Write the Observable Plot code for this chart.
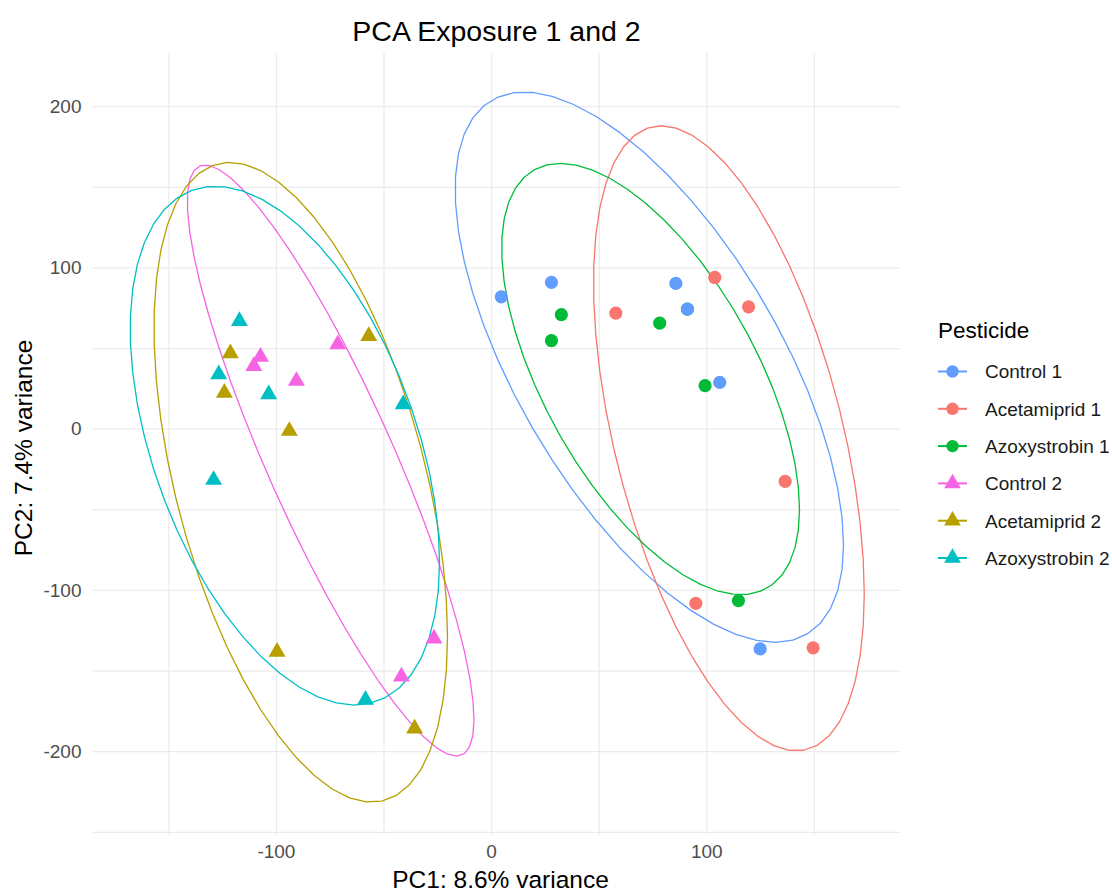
<!DOCTYPE html>
<html>
<head>
<meta charset="utf-8">
<script src="https://cdn.jsdelivr.net/npm/d3@7"></script>
<script src="https://cdn.jsdelivr.net/npm/@observablehq/plot@0.6"></script>
<style>
  html, body { margin: 0; padding: 0; background: #ffffff; }
  #chart { width: 1112px; height: 896px; }
</style>
</head>
<body>
<div id="chart"></div>
<script>
// ---- Data (PC1, PC2 scores) ----
const seriesNames = ["Control 1", "Acetamiprid 1", "Azoxystrobin 1", "Control 2", "Acetamiprid 2", "Azoxystrobin 2"];
const seriesColors = ["#619CFF", "#F8766D", "#00BA38", "#F564E3", "#B79F00", "#00BFC4"];
const seriesShapes = ["circle", "circle", "circle", "triangle", "triangle", "triangle"];
const drawOrder = [5, 4, 3, 2, 1, 0]; // later = on top

const control1 = [[4.5, 82.1], [27.8, 91.0], [85.6, 90.4], [91.0, 74.5], [106.0, 29.0], [124.8, -136.3]];
const acetamiprid1 = [[57.7, 72.0], [103.7, 94.1], [119.4, 75.9], [136.4, -32.4], [94.9, -108.0], [149.4, -135.6]];
const azoxystrobin1 = [[32.4, 71.0], [27.8, 54.9], [78.1, 65.8], [91.0, 74.5], [99.2, 27.0], [114.7, -106.3]];
const control2 = [[-107.4, 44.9], [-110.5, 39.2], [-90.7, 29.9], [-71.5, 52.6], [-26.8, -129.9], [-41.9, -153.4]];
const acetamiprid2 = [[-121.4, 47.0], [-124.2, 22.6], [-57.1, 57.8], [-94.0, -1.1], [-99.7, -138.1], [-35.8, -185.7]];
const azoxystrobin2 = [[-117.2, 67.1], [-126.8, 34.0], [-103.6, 21.6], [-41.1, 15.4], [-129.2, -31.5], [-58.6, -167.9]];

const seriesValues = [control1, acetamiprid1, azoxystrobin1, control2, acetamiprid2, azoxystrobin2];

const xTicks = [-100, 0, 100];
const yTicks = [-200, -100, 0, 100, 200];
const xGrid = [-150, -100, -50, 0, 50, 100, 150];
const yGrid = [-250, -200, -150, -100, -50, 0, 50, 100, 150, 200];
const ellipseLevel = 0.75;

// ---- Table of points ----
const points = [];
seriesNames.forEach((name, i) => {
  seriesValues[i].forEach(([pc1, pc2]) => points.push({group: name, shape: seriesShapes[i], order: drawOrder[i], pc1, pc2}));
});

// ---- stat_ellipse (type "norm"): sample covariance + chol ----
function ellipsePath(pts, group, level, segments = 51) {
  const n = pts.length;
  const mx = d3.mean(pts, d => d[0]), my = d3.mean(pts, d => d[1]);
  let a = 0, b = 0, c = 0;
  pts.forEach(([x, y]) => { a += (x - mx) * (x - mx); b += (x - mx) * (y - my); c += (y - my) * (y - my); });
  a /= n - 1; b /= n - 1; c /= n - 1;
  const dfn = 2, dfd = n - 1;
  const fq = (dfd / 2) * (Math.pow(1 - level, -2 / dfd) - 1); // qf(level, 2, dfd)
  const radius = Math.sqrt(dfn * fq);
  const r11 = Math.sqrt(a), r12 = b / r11, r22 = Math.sqrt(c - r12 * r12);
  const out = [];
  for (let k = 0; k <= segments; k++) {
    const t = k * 2 * Math.PI / segments;
    const ct = Math.cos(t), st = Math.sin(t);
    out.push({group, pc1: mx + radius * ct * r11, pc2: my + radius * (ct * r12 + st * r22)});
  }
  return out;
}
const ellipses = seriesNames.flatMap((name, i) => ellipsePath(seriesValues[i], name, ellipseLevel));

// ---- Plot ----
const W = 1112, H = 896;
const mL = 93, mR = 212, mT = 53, mB = 61;
const FONT = "'Liberation Sans', Arial, Helvetica, sans-serif";
const fmt = d => String(d);

const plot = Plot.plot({
  width: W, height: H,
  marginLeft: mL, marginRight: mR, marginTop: mT, marginBottom: mB,
  style: {fontFamily: FONT, background: "#ffffff"},
  x: {domain: [-185, 190]},
  y: {domain: [-252, 233]},
  color: {domain: seriesNames, range: seriesColors},
  marks: [
    Plot.gridX(xGrid, {stroke: "#EBEBEB", strokeOpacity: 1, strokeWidth: 1.2}),
    Plot.gridY(yGrid, {stroke: "#EBEBEB", strokeOpacity: 1, strokeWidth: 1.2}),
    Plot.axisX({ticks: xTicks, tickFormat: fmt, tickSize: 0, tickPadding: 9, fontSize: 19, fill: "#4D4D4D", label: null}),
    Plot.axisY({ticks: yTicks, tickFormat: fmt, tickSize: 0, tickPadding: 12, fontSize: 19, fill: "#4D4D4D", label: null}),
    Plot.line(ellipses, {x: "pc1", y: "pc2", z: "group", stroke: "group", strokeWidth: 1.3, curve: "linear"}),
    Plot.dot(points.filter(d => d.shape === "circle"), {x: "pc1", y: "pc2", fill: "group", r: 6.6, symbol: "circle", sort: "order"}),
    Plot.dot(points.filter(d => d.shape === "triangle"), {x: "pc1", y: "pc2", fill: "group", r: 6.3, symbol: "triangle", sort: "order"})
  ]
});

document.getElementById("chart").appendChild(plot);

// ---- Titles and legend ----
const svg = d3.select(plot);
const colorScale = plot.scale("color");
const panelCx = mL + (W - mL - mR) / 2;
const panelCy = mT + (H - mT - mB) / 2;

svg.append("text")
  .attr("x", panelCx).attr("y", 41)
  .attr("text-anchor", "middle")
  .attr("font-family", FONT).attr("font-size", 28.5).attr("fill", "#000000")
  .text("PCA Exposure 1 and 2");

svg.append("text")
  .attr("x", panelCx + 4).attr("y", 888)
  .attr("text-anchor", "middle")
  .attr("font-family", FONT).attr("font-size", 24.5).attr("fill", "#000000")
  .text("PC1: 8.6% variance");

svg.append("text")
  .attr("transform", `translate(32,${panelCy + 4}) rotate(-90)`)
  .attr("text-anchor", "middle")
  .attr("font-family", FONT).attr("font-size", 24.5).attr("fill", "#000000")
  .text("PC2: 7.4% variance");

const legend = svg.append("g").attr("text-anchor", "start");
legend.append("text")
  .attr("x", 938).attr("y", 338)
  .attr("text-anchor", "start")
  .attr("font-family", FONT).attr("font-size", 22.5).attr("fill", "#000000")
  .text("Pesticide");

const legendY0 = 371.5, legendStep = 37.3;
seriesNames.forEach((name, i) => {
  const cy = legendY0 + i * legendStep;
  const col = colorScale.apply(name);
  const g = legend.append("g");
  g.append("line")
    .attr("x1", 938).attr("x2", 967).attr("y1", cy).attr("y2", cy)
    .attr("stroke", col).attr("stroke-width", 2);
  if (seriesShapes[i] === "circle") {
    g.append("circle").attr("cx", 952.5).attr("cy", cy).attr("r", 6.2).attr("fill", col);
  } else {
    g.append("path")
      .attr("transform", `translate(952.5,${cy})`)
      .attr("d", d3.symbol(d3.symbolTriangle, Math.PI * 6.2 * 6.2)())
      .attr("fill", col);
  }
  g.append("text")
    .attr("x", 985).attr("y", cy).attr("dy", "0.36em")
    .attr("text-anchor", "start")
    .attr("font-family", FONT).attr("font-size", 19).attr("fill", "#1a1a1a")
    .text(name);
});
</script>
</body>
</html>
